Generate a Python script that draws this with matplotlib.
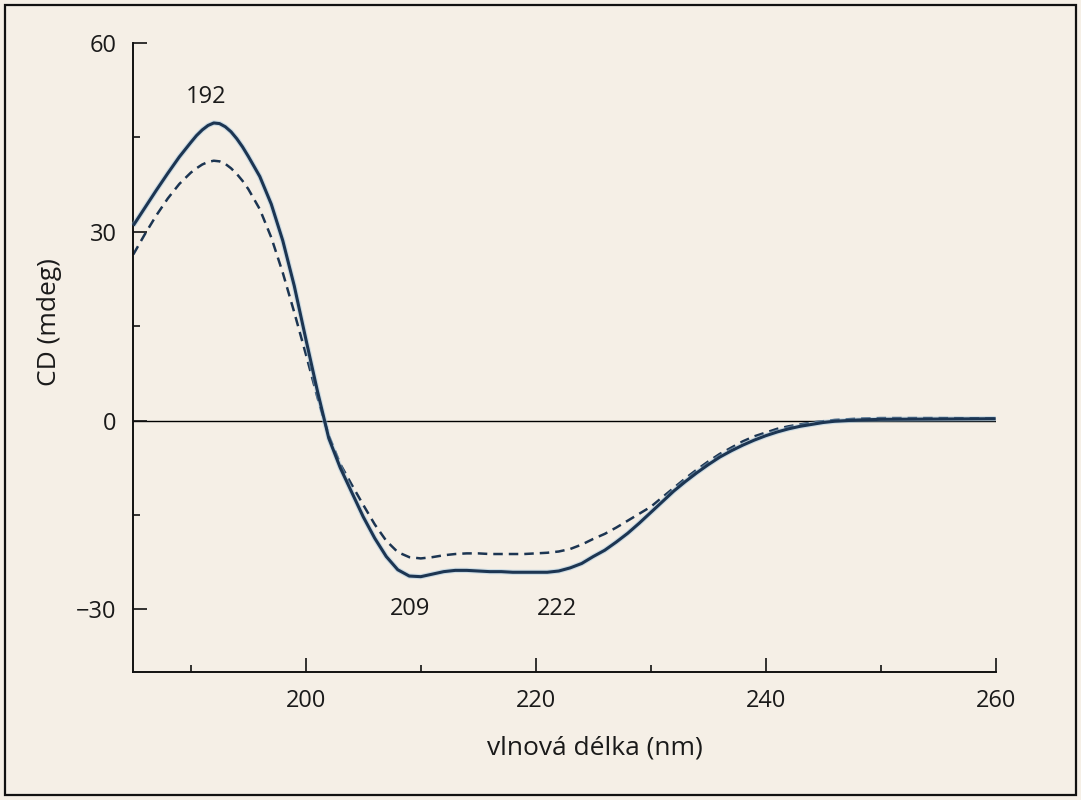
import matplotlib
matplotlib.use("Agg")
import matplotlib.pyplot as plt
import matplotlib.patheffects as pe
from matplotlib.patches import Rectangle
from matplotlib.ticker import MultipleLocator

# ---- data ----
wavelength = [185, 186, 187, 188, 189, 190, 190.5, 191, 191.5, 192, 192.5, 193, 193.5, 194, 194.5,
              195, 196, 197, 198, 199,
              200, 201, 202, 203, 204, 205, 206, 207, 208, 209, 210, 211, 212, 213, 214,
              215, 216, 217, 218, 219, 220, 221, 222, 223, 224, 225, 226, 227, 228, 229,
              230, 231, 232, 233, 234, 235, 236, 237, 238, 239, 240, 241, 242, 243, 244,
              245, 246, 247, 248, 250, 255, 260]

cd_solid = [31.0, 33.8, 36.6, 39.3, 41.9, 44.2, 45.3, 46.2, 46.9, 47.3, 47.2, 46.7, 45.9, 44.8, 43.5,
            42.0, 38.8, 34.4, 28.6, 21.4,
            13.0, 4.8, -2.8, -7.5, -11.4, -15.3, -18.7, -21.6, -23.7, -24.7, -24.8, -24.4, -24.0, -23.8, -23.8,
            -23.9, -24.0, -24.0, -24.1, -24.1, -24.1, -24.1, -23.9, -23.4, -22.7, -21.6, -20.6, -19.3, -17.9, -16.3,
            -14.6, -12.9, -11.2, -9.7, -8.3, -7.0, -5.8, -4.8, -3.9, -3.1, -2.4, -1.8, -1.3, -0.9, -0.6,
            -0.3, -0.1, 0.0, 0.1, 0.2, 0.25, 0.3]

cd_dashed = [26.4, 29.6, 32.6, 35.3, 37.6, 39.4, 40.1, 40.7, 41.1, 41.3, 41.2, 40.8, 40.1, 39.2, 38.1,
             36.8, 33.6, 29.1, 23.5, 17.2,
             10.6, 3.8, -2.4, -6.9, -10.2, -13.4, -16.5, -19.1, -20.9, -21.7, -21.9, -21.7, -21.4, -21.2, -21.1,
             -21.1, -21.2, -21.2, -21.2, -21.2, -21.1, -21.0, -20.8, -20.4, -19.7, -18.8, -18.0, -17.0, -15.9, -14.8,
             -13.7, -12.2, -10.7, -9.2, -7.8, -6.5, -5.3, -4.3, -3.3, -2.5, -1.9, -1.3, -0.9, -0.6, -0.3,
             -0.1, 0.1, 0.2, 0.3, 0.4, 0.4, 0.35]

peak_labels = ["192", "209", "222"]
peak_x = [191.3, 209.1, 221.8]
peak_y = [51.5, -30.0, -30.0]

x_major = [200, 220, 240, 260]
y_major = [-30, 0, 30, 60]

# ---- style ----
BG = "#F5EFE6"
LINE = "#1C3552"
HALO = "#9cc3e0"
TXT = "#1a1a1a"
plt.rcParams["font.family"] = ["Open Sans", "DejaVu Sans"]

fig = plt.figure(figsize=(10.81, 8.0), dpi=100, facecolor=BG)
fig.patches.append(Rectangle((0.005, 0.006), 0.99, 0.988, transform=fig.transFigure,
                             fill=False, edgecolor="#111111", linewidth=1.6))

ax = fig.add_axes([0.1233, 0.1596, 0.7978, 0.7866])
ax.set_facecolor(BG)

ax.axhline(0, color="black", linewidth=1.0, zorder=1)

halo = [pe.Stroke(linewidth=3.8, foreground=HALO, alpha=0.45), pe.Normal()]
ax.plot(wavelength, cd_solid, color=LINE, linewidth=2.2, solid_capstyle="butt",
        solid_joinstyle="round", path_effects=halo, zorder=3, clip_on=False)
ax.plot(wavelength, cd_dashed, color=LINE, linewidth=1.8, linestyle=(0, (3.8, 2.4)),
        zorder=2, clip_on=False)

for lab, xx, yy in zip(peak_labels, peak_x, peak_y):
    ax.text(xx, yy, lab, ha="center", va="center", fontsize=17, color=TXT)

ax.set_xlim(185, 260)
ax.set_ylim(-40, 60)
ax.set_xticks(x_major)
ax.set_yticks(y_major)
ax.set_yticklabels(["\u221230", "0", "30", "60"])
ax.xaxis.set_minor_locator(MultipleLocator(10))
ax.yaxis.set_minor_locator(MultipleLocator(15))

for s in ["top", "right"]:
    ax.spines[s].set_visible(False)
for s in ["left", "bottom"]:
    ax.spines[s].set_linewidth(1.4)
    ax.spines[s].set_color("#111111")

ax.tick_params(which="major", direction="in", length=10, width=1.2, color="#111111",
               labelsize=17, labelcolor=TXT, pad=12)
ax.tick_params(which="minor", direction="in", length=5, width=1.2, color="#111111")

ax.set_xlabel("vlnová délka (nm)", fontsize=19, color=TXT, va="center")
ax.xaxis.set_label_coords(0.535, -0.120)
ax.set_ylabel("CD (mdeg)", fontsize=19, color=TXT, va="center")
ax.yaxis.set_label_coords(-0.0966, 0.5567)

fig.savefig("out.png", dpi=100, facecolor=BG)
